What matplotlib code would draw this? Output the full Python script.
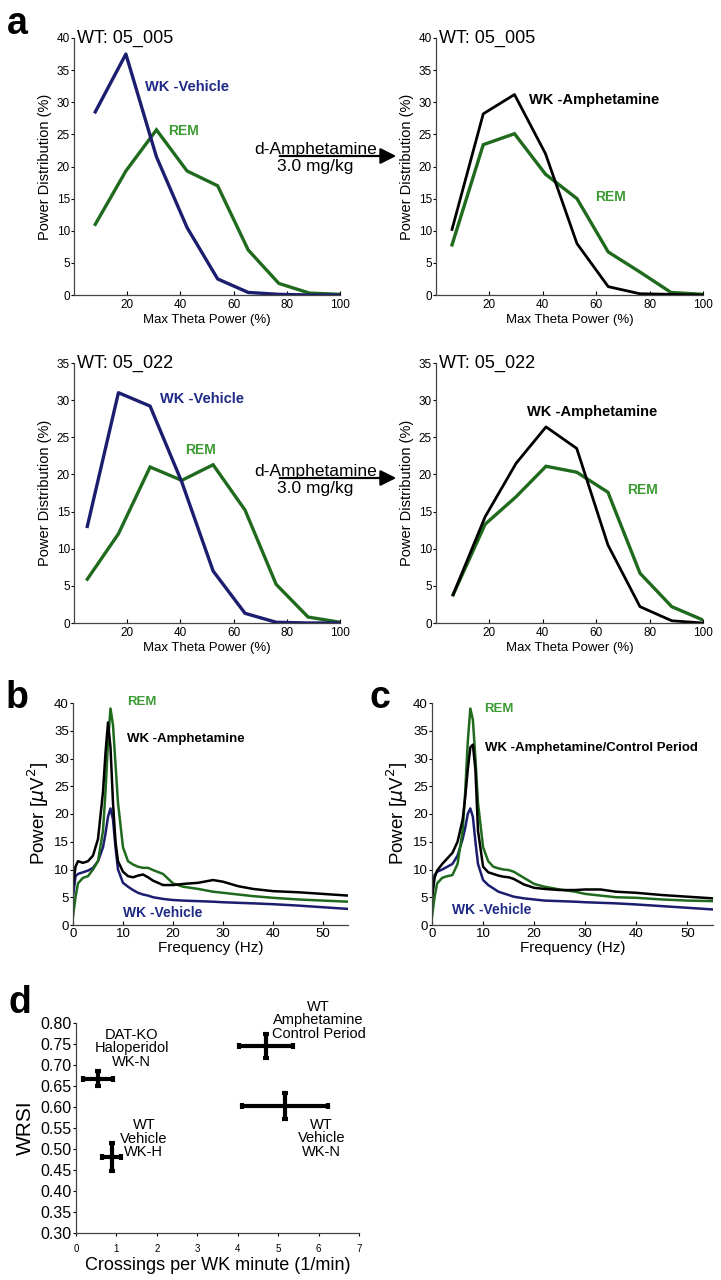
import matplotlib
matplotlib.use("Agg")
import matplotlib.pyplot as plt

plt.rcParams['font.family'] = ['Liberation Sans', 'DejaVu Sans']

W, H = 721, 1280

# ---- panel a: power distribution vs max theta power ----
a_x_top_left = [8, 19.5, 31, 42.5, 54, 65.5, 77, 88.5, 100]
wt005_veh = [28.5, 37.5, 21.5, 10.5, 2.5, 0.4, 0.1, 0.0, 0.0]
wt005_rem_veh = [11.0, 19.3, 25.7, 19.3, 17.0, 7.0, 1.8, 0.3, 0.1]

a_x_top_right = [6, 17.7, 29.4, 41, 52.8, 64.5, 76.3, 88, 100]
wt005_amph = [10.2, 28.2, 31.2, 22.0, 8.0, 1.3, 0.2, 0.1, 0.0]
wt005_rem_amph = [7.8, 23.4, 25.1, 18.8, 15.0, 6.7, 3.6, 0.4, 0.1]

a_x_bot_left = [5, 16.7, 28.6, 40.5, 52.3, 64.3, 76, 88, 100]
wt022_veh = [13.0, 31.0, 29.2, 19.0, 7.0, 1.3, 0.1, 0.0, 0.0]
wt022_rem_veh = [5.9, 12.0, 21.0, 19.2, 21.3, 15.2, 5.2, 0.8, 0.1]

a_x_bot_right = [6.4, 18.4, 30, 41.2, 52.7, 64.4, 76.4, 88.3, 100]
wt022_amph = [3.8, 14.3, 21.5, 26.4, 23.5, 10.5, 2.2, 0.3, 0.0]
wt022_rem_amph = [3.8, 13.3, 17.0, 21.1, 20.3, 17.6, 6.7, 2.2, 0.4]

# ---- panels b, c: power spectra ----
freq = [0, 0.5, 1, 2, 3, 4, 5, 6, 6.5, 7, 7.5, 8, 8.5, 9, 10, 11, 12, 13, 14,
        15, 16, 18, 20, 22, 25, 28, 30, 33, 36, 40, 45, 50, 55]
b_amph = [7, 10.5, 11.5, 11.2, 11.5, 12.5, 15.5, 24, 31, 36.5, 32, 22, 15, 11.5,
          9.6, 8.8, 8.6, 8.9, 9.1, 8.6, 8.0, 7.2, 7.2, 7.4, 7.6, 8.1, 7.8, 7.0,
          6.5, 6.1, 5.9, 5.6, 5.3]
b_rem = [1.5, 5, 7.5, 8.5, 8.8, 10, 11.5, 17, 24, 33, 39, 36, 29, 22, 14, 11.5,
         10.9, 10.5, 10.3, 10.3, 9.9, 9.2, 7.5, 6.9, 6.5, 6.0, 5.8, 5.5, 5.2,
         4.9, 4.6, 4.4, 4.2]
b_veh = [5, 8.8, 9.2, 9.5, 9.8, 10.3, 11.5, 14, 16.5, 19.5, 21, 19, 14, 10,
         7.6, 6.9, 6.3, 5.8, 5.5, 5.3, 5.0, 4.7, 4.5, 4.4, 4.3, 4.2, 4.1, 4.0,
         3.9, 3.75, 3.5, 3.2, 2.9]

c_amph = [5, 8.5, 9.8, 11, 12, 13, 15, 19, 23, 28, 32, 32.5, 28, 17, 10.5, 9.5,
          9.2, 8.9, 8.7, 8.6, 8.3, 7.3, 6.7, 6.5, 6.3, 6.3, 6.4, 6.4, 6.0, 5.8,
          5.4, 5.1, 4.8]
c_rem = [1.5, 5, 7.5, 8.5, 8.8, 9.0, 11, 17, 24, 33, 39, 37, 30, 22, 14, 11.5,
         10.5, 10.2, 10.0, 9.9, 9.6, 8.5, 7.4, 6.9, 6.4, 6.0, 5.6, 5.3, 5.0,
         4.9, 4.6, 4.4, 4.3]
c_veh = [5, 9, 9.6, 10, 10.5, 11, 12.5, 15.5, 17.5, 20, 21, 19.5, 15, 11, 8.1,
         7.2, 6.6, 6.0, 5.7, 5.4, 5.1, 4.8, 4.6, 4.4, 4.3, 4.2, 4.1, 4.0, 3.9,
         3.7, 3.4, 3.1, 2.8]

# ---- panel d: WRSI vs crossings ----
d_names = ["DAT-KO\nHaloperidol\nWK-N", "WT\nVehicle\nWK-H",
           "WT\nAmphetamine\nControl Period", "WT\nVehicle\nWK-N"]
d_x = [0.55, 0.88, 4.70, 5.17]
d_y = [0.667, 0.481, 0.745, 0.602]
d_xerr = [0.37, 0.23, 0.66, 1.07]
d_yerr = [0.018, 0.033, 0.029, 0.031]

NAVY = '#1b1d6e'
GREEN = '#1f6a1d'
GREEN_TXT = '#3c9a33'
VEH_TXT = '#1f2a85'

fig = plt.figure(figsize=(W / 100, H / 100), dpi=100)


def add_ax(l, t, r, b):
    return fig.add_axes([l / W, 1 - b / H, (r - l) / W, (b - t) / H])


def style(ax):
    for s in ['top', 'right']:
        ax.spines[s].set_visible(False)
    for s in ['left', 'bottom']:
        ax.spines[s].set_linewidth(0.9)
        ax.spines[s].set_color('#444444')


def fig_text(px, py, s, **kw):
    fig.text(px / W, 1 - py / H, s, **kw)


def dist_panel(box, x, wk, rem, wk_color, ymax, title, wk_lbl, wk_pos, rem_pos):
    ax = add_ax(*box)
    style(ax)
    ax.plot(x, rem, color=GREEN, lw=2.4, solid_joinstyle='miter')
    ax.plot(x, wk, color=wk_color, lw=2.4 if wk_color == NAVY else 2.0)
    ax.set_xlim(0, 100)
    ax.set_ylim(0, ymax)
    ax.set_xticks([20, 40, 60, 80, 100])
    ax.set_yticks(range(0, ymax + 1, 5))
    ax.tick_params(axis='x', direction='in', length=3, labelsize=8.5, pad=3)
    ax.tick_params(axis='y', direction='out', length=2, labelsize=8.5, pad=1)
    ax.set_xlabel('Max Theta Power (%)', fontsize=9.5, labelpad=2)
    ax.set_ylabel('Power Distribution (%)', fontsize=10.5, labelpad=3)
    ax.text(0.012, 1.0, title, transform=ax.transAxes, fontsize=13, va='center', ha='left')
    ax.text(wk_pos[0], wk_pos[1], wk_lbl, color=VEH_TXT if wk_color == NAVY else 'black',
            fontsize=10.5, fontweight='bold', va='center')
    ax.text(rem_pos[0], rem_pos[1], 'REM', color=GREEN_TXT, fontsize=10,
            fontweight='bold', va='center')
    return ax


dist_panel((74, 38, 340, 295), a_x_top_left, wt005_veh, wt005_rem_veh, NAVY, 40,
           'WT: 05_005', 'WK -Vehicle', (26.7, 32.4), (35.3, 25.5))
dist_panel((436, 38, 703, 295), a_x_top_right, wt005_amph, wt005_rem_amph, 'black', 40,
           'WT: 05_005', 'WK -Amphetamine', (35, 30.3), (59.5, 15.3))
dist_panel((74, 363, 340, 623), a_x_bot_left, wt022_veh, wt022_rem_veh, NAVY, 35,
           'WT: 05_022', 'WK -Vehicle', (32.3, 30.2), (41.7, 23.3))
dist_panel((436, 363, 703, 623), a_x_bot_right, wt022_amph, wt022_rem_amph, 'black', 35,
           'WT: 05_022', 'WK -Amphetamine', (34, 28.4), (71.5, 17.9))

# treatment arrows between the columns
for ya in (156, 478):
    fig_text(254, ya - 2, 'd-Amphetamine', fontsize=12.5, ha='left', va='baseline')
    fig_text(277, ya + 11, '3.0 mg/kg', fontsize=12.5, ha='left', va='center')
    fig.add_artist(matplotlib.patches.FancyArrowPatch(
        (277 / W, 1 - ya / H), (399 / W, 1 - ya / H), transform=fig.transFigure,
        arrowstyle='-|>', mutation_scale=24, lw=1.6, color='black'))


def spec_panel(box, amph, rem, veh, amph_lbl, lbl_pos):
    ax = add_ax(*box)
    style(ax)
    ax.plot(freq, veh, color=NAVY, lw=1.8)
    ax.plot(freq, rem, color=GREEN, lw=1.8)
    ax.plot(freq, amph, color='black', lw=1.8)
    ax.set_xlim(0, 55)
    ax.set_ylim(0, 40)
    ax.set_xticks([0, 10, 20, 30, 40, 50])
    ax.set_yticks(range(0, 41, 5))
    ax.tick_params(axis='x', direction='in', length=3, labelsize=9.5, pad=2)
    ax.tick_params(axis='y', direction='out', length=2, labelsize=9.5, pad=1)
    ax.set_xlabel('Frequency (Hz)', fontsize=11, labelpad=1)
    ax.set_ylabel(r'Power [$\mu$V$^2$]', fontsize=13.5, labelpad=2)
    ax.text(lbl_pos[0][0], lbl_pos[0][1], 'REM', color=GREEN_TXT, fontsize=9.5,
            fontweight='bold', va='center')
    ax.text(lbl_pos[1][0], lbl_pos[1][1], amph_lbl, color='black', fontsize=9.5,
            fontweight='bold', va='center')
    ax.text(lbl_pos[2][0], lbl_pos[2][1], 'WK -Vehicle', color=VEH_TXT, fontsize=10,
            fontweight='bold', va='center')
    return ax


spec_panel((73, 703, 348, 925), b_amph, b_rem, b_veh, 'WK -Amphetamine',
           [(10.8, 40.2), (10.8, 33.5), (10.0, 2.2)])
spec_panel((432, 703, 713, 925), c_amph, c_rem, c_veh, 'WK -Amphetamine/Control Period',
           [(10.3, 38.9), (10.3, 31.9), (3.9, 2.7)])

# panel d
axd = add_ax(76, 1023, 359, 1233)
style(axd)
axd.errorbar(d_x, d_y, xerr=d_xerr, yerr=d_yerr, fmt='none', ecolor='black',
             elinewidth=3, capsize=2.5, capthick=3)
axd.set_xlim(0, 7)
axd.set_ylim(0.3, 0.8)
axd.set_xticks(range(0, 8))
axd.set_yticks([0.30 + 0.05 * i for i in range(11)])
axd.set_yticklabels(['%.2f' % (0.30 + 0.05 * i) for i in range(11)])
axd.tick_params(axis='x', direction='out', length=2, labelsize=7, pad=6)
axd.tick_params(axis='y', direction='out', length=2, labelsize=11.5, pad=1)
axd.set_xlabel('Crossings per WK minute (1/min)', fontsize=13, labelpad=2)
axd.set_ylabel('WRSI', fontsize=15, labelpad=4)
d_lbl_pos = [(1.38, 0.74), (1.68, 0.524), (6.0, 0.807), (6.08, 0.526)]
for name, (lx, ly) in zip(d_names, d_lbl_pos):
    axd.text(lx, ly, name, ha='center', va='center', fontsize=10.5, linespacing=0.95)

# panel letters
for lbl, px, py in [('a', 17, 24), ('b', 17, 698), ('c', 380, 698), ('d', 20, 1003)]:
    fig_text(px, py, lbl, fontsize=27, fontweight='bold', ha='center', va='center')

fig.savefig('out.png', dpi=100)
